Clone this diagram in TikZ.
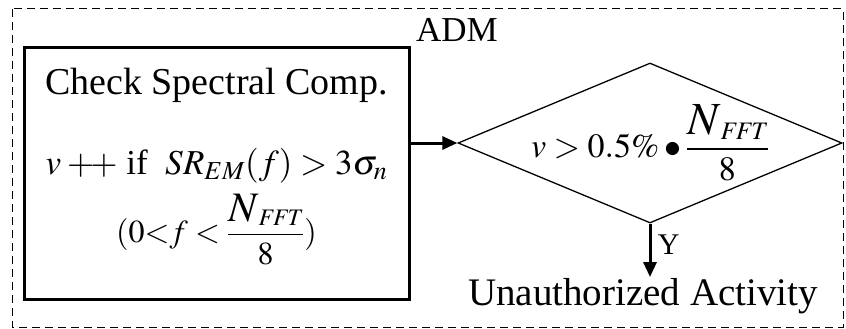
\documentclass[tikz,border=0pt]{standalone}
\usepackage{mathptmx}
\usepackage{amsmath}
\usepackage{fontspec}
\setmainfont{Liberation Serif}
\usetikzlibrary{arrows.meta,shapes.geometric,calc}
\tikzset{
  procbox/.style={draw, line width=3pt, align=center, minimum width=385pt, minimum height=251pt, inner sep=0pt, text depth=36pt, font=\fontsize{38}{62}\selectfont},
  decision/.style={draw, diamond, aspect=2.4, line width=1.3pt, minimum width=384pt, minimum height=160pt, inner sep=-6pt, font=\fontsize{34}{40}\selectfont},
  arrow/.style={-{Triangle[length=15pt,width=13pt]}, line width=3pt},
  frame/.style={draw, dash pattern=on 8pt off 5pt, line width=1pt},
  note/.style={inner sep=1pt, font=\fontsize{39}{44}\selectfont}
}
\newcommand{\bigN}[1]{\mbox{\fontsize{#1}{#1}\selectfont$N$}}

\begin{document}
\begin{tikzpicture}[x=1pt,y=-1pt]
  \useasboundingbox (0,0) rectangle (846,329);
  \draw[frame] (12,9) rectangle (843,327);
  \node[note, font=\fontsize{35}{40}\selectfont] (adm) at (457,30) {ADM};
  \node[procbox] (check) at (216.5,173.5) {Check Spectral Comp.\\[18pt]
    {\fontsize{35}{40}\selectfont$v$\,$+\!+$\ if\ \ $SR_{EM}(f)>3\sigma_n$}\\[6pt]
    {\fontsize{32}{36}\selectfont $(0{<}f<\dfrac{\bigN{42}_{\mathit{FFT}}}{8})$}};
  \node[decision] (dia) at (650,143) {$v>0.5\%\bullet\dfrac{\bigN{46}_{\mathit{FFT}}}{8}$};
  \node[note] (act) at (643,296) {Unauthorized Activity};

  \draw[arrow] (check.east |- dia.west) -- (dia.west);
  \draw[arrow] (dia.south) -- node[right, pos=0.4, xshift=3pt, font=\fontsize{30}{32}\selectfont] (yes) {Y} (dia.south |- act.north);
\end{tikzpicture}
\end{document}
